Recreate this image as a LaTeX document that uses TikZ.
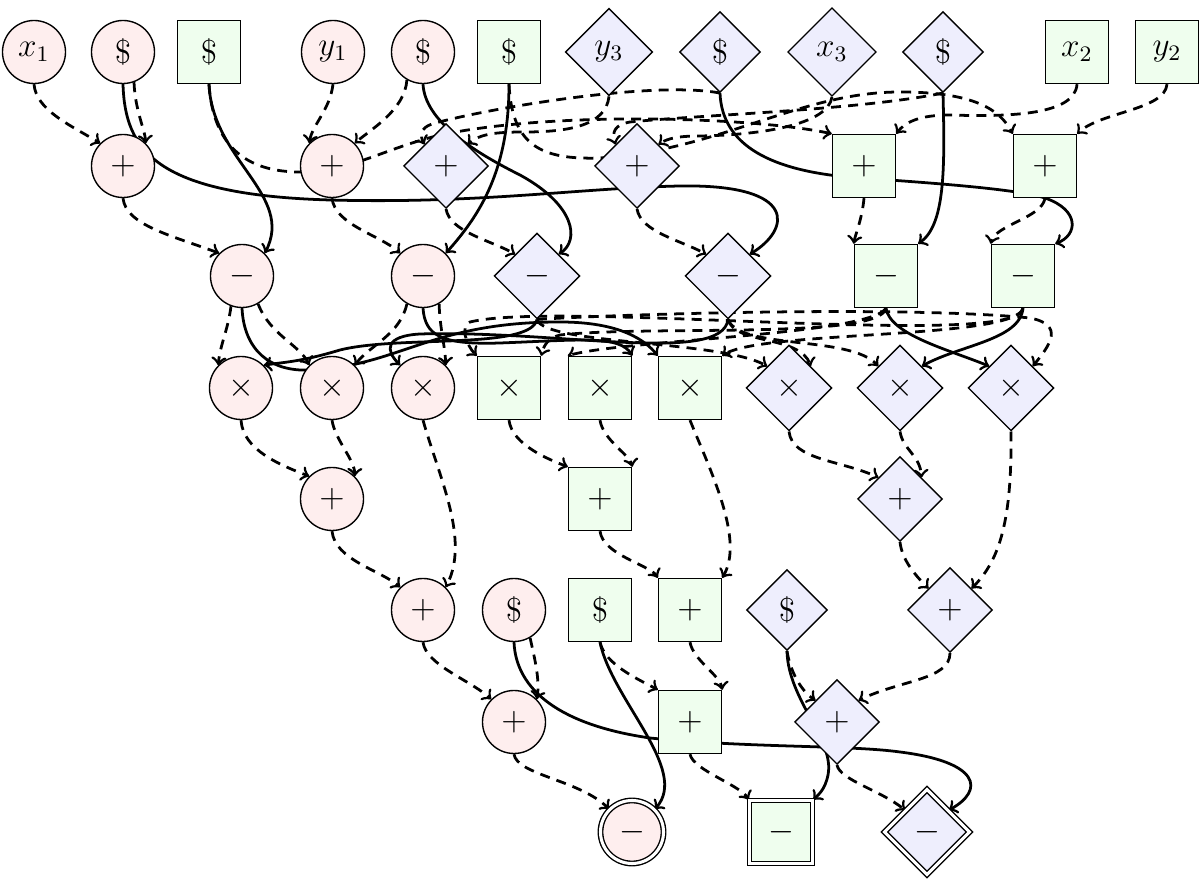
\documentclass[tikz,border=0pt]{standalone}
\usetikzlibrary{shapes.geometric,backgrounds}
\definecolor{cpink}{RGB}{254,238,238}
\definecolor{cgreen}{RGB}{239,254,238}
\definecolor{cblue}{RGB}{238,238,253}
\tikzset{
  base/.style={draw, line width=0.5pt, font=\large},
  pc/.style={base, circle, fill=cpink, minimum size=0.8cm, inner sep=0pt},
  ps/.style={base, rectangle, fill=cgreen, minimum size=0.8cm, inner sep=0pt},
  pd/.style={base, diamond, fill=cblue, inner sep=3.4pt},
  dbl/.style={double, double distance=1.1pt},
  loc/.style={->, dash pattern=on 3.6pt off 2.6pt, line width=1pt},
  snd/.style={->, line width=1pt}
}
\begin{document}
\begin{tikzpicture}[x=0.0127cm, y=-0.0127cm]
\useasboundingbox (0,0) rectangle (1200,879);
% row 1
\node[pc] (x1) at (34,52) {$x_1$};
\node[pc] (r1) at (123,52) {\$};
\node[ps] (s1) at (209,52) {\$};
\node[pc] (y1) at (333,52) {$y_1$};
\node[pc] (r2) at (423,52) {\$};
\node[ps] (s2) at (509,52) {\$};
\node[pd] (y3) at (609,52) {$y_3$};
\node[pd] (d1) at (720,52) {\$};
\node[pd] (x3) at (832,52) {$x_3$};
\node[pd] (d2) at (943,52) {\$};
\node[ps] (x2) at (1077,52) {$x_2$};
\node[ps] (y2) at (1167,52) {$y_2$};
% row 2
\node[pc] (pC1) at (123,166) {$+$};
\node[pc] (pC2) at (332,166) {$+$};
\node[pd] (pD1) at (446,166) {$+$};
\node[pd] (pD2) at (637,166) {$+$};
\node[ps] (pS1) at (864,166) {$+$};
\node[ps] (pS2) at (1045,166) {$+$};
% row 3
\node[pc] (mC1) at (242,276) {$-$};
\node[pc] (mC2) at (423,276) {$-$};
\node[pd] (mD1) at (537,276) {$-$};
\node[pd] (mD2) at (728,276) {$-$};
\node[ps] (mS1) at (886,276) {$-$};
\node[ps] (mS2) at (1023,276) {$-$};
% row 4
\node[pc] (tC1) at (241,388) {$\times$};
\node[pc] (tC2) at (332,388) {$\times$};
\node[pc] (tC3) at (423,388) {$\times$};
\node[ps] (tS1) at (509,388) {$\times$};
\node[ps] (tS2) at (600,388) {$\times$};
\node[ps] (tS3) at (690,388) {$\times$};
\node[pd] (tD1) at (789,388) {$\times$};
\node[pd] (tD2) at (900,388) {$\times$};
\node[pd] (tD3) at (1011,388) {$\times$};
% row 5
\node[pc] (aC) at (332,499) {$+$};
\node[ps] (aS) at (600,499) {$+$};
\node[pd] (aD) at (900,499) {$+$};
% row 6
\node[pc] (bC) at (423,610) {$+$};
\node[pc] (rC3) at (514,610) {\$};
\node[ps] (sS3) at (600,610) {\$};
\node[ps] (bS) at (690,610) {$+$};
\node[pd] (dD3) at (787,610) {\$};
\node[pd] (bD) at (950,610) {$+$};
% row 7
\node[pc] (cC) at (514,722) {$+$};
\node[ps] (cS) at (690,722) {$+$};
\node[pd] (cD) at (837,722) {$+$};
% row 8
\node[pc, dbl] (oC) at (632,832) {$-$};
\node[ps, dbl] (oS) at (781,832) {$-$};
\node[pd, dbl] (oD) at (927,832) {$-$};

\begin{pgfonlayer}{background}
% row 1 -> row 2 (local)
\draw[loc] (x1.south) .. controls (36,110) and (70,125) .. (pC1.north west);
\draw[loc] (r1.-70) .. controls (135,110) and (145,130) .. (pC1.north east);
\draw[loc] (y1.south) .. controls (330,110) and (312,125) .. (pC2.north west);
\draw[loc] (r2.-120) .. controls (405,110) and (370,130) .. (pC2.north east);
\draw[loc] (s1.south) .. controls (213,145) and (245,172) .. (300,172) .. controls (350,172) and (380,150) .. (440,135) .. controls (560,110) and (760,118) .. (pS1.north west);
\draw[loc] (s2.south) .. controls (512,145) and (540,160) .. (600,158) .. controls (720,150) and (800,92) .. (900,92) .. controls (975,92) and (1000,110) .. (pS2.north west);
\draw[loc] (d1.south) .. controls (650,80) and (480,110) .. (432,124) .. controls (420,128) and (420,136) .. (pD1.north west);
\draw[loc] (y3.south) .. controls (606,125) and (570,132) .. (525,132) .. controls (495,132) and (480,134) .. (pD1.north east);
\draw[loc] (d2.south) .. controls (860,110) and (700,115) .. (630,122) .. controls (614,125) and (612,132) .. (pD2.north west);
\draw[loc] (x3.south) .. controls (828,125) and (760,135) .. (700,136) .. controls (680,136) and (668,138) .. (pD2.north east);
\draw[loc] (x2.south) .. controls (1075,115) and (1010,117) .. (950,115) .. controls (920,115) and (905,122) .. (pS1.north east);
\draw[loc] (y2.south) .. controls (1165,110) and (1100,112) .. (pS2.north east);
% row 2 -> row 3 (local)
\draw[loc] (pC1.south) .. controls (126,225) and (170,235) .. (mC1.north west);
\draw[loc] (pC2.south) .. controls (335,225) and (380,235) .. (mC2.north west);
\draw[loc] (pD1.south) .. controls (450,232) and (490,240) .. (mD1.north west);
\draw[loc] (pD2.south) .. controls (641,232) and (680,240) .. (mD2.north west);
\draw[loc] (pS1.south) .. controls (862,220) and (855,235) .. (mS1.north west);
\draw[loc] (pS2.south) .. controls (1042,218) and (995,225) .. (mS2.north west);
% random values sent
\draw[snd] (r1.south) .. controls (125,150) and (155,195) .. (330,200) .. controls (480,204) and (580,188) .. (680,186) .. controls (800,184) and (790,230) .. (mD2.north east);
\draw[snd] (s1.south) .. controls (212,160) and (295,195) .. (mC1.north east);
\draw[snd] (r2.south) .. controls (425,120) and (470,150) .. (520,175) .. controls (575,205) and (580,240) .. (mD1.north east);
\draw[snd] (s2.south) .. controls (509,170) and (480,215) .. (mC2.north east);
\draw[snd] (d1.south) .. controls (722,145) and (770,172) .. (860,178) .. controls (950,184) and (1020,190) .. (1045,198) .. controls (1080,210) and (1078,235) .. (mS2.north east);
\draw[snd] (d2.south) .. controls (945,170) and (945,225) .. (mS1.north east);
% row 3 -> row 4 (local)
\draw[loc] (mC1.250) .. controls (228,330) and (220,345) .. (tC1.north west);
\draw[loc] (mC1.-60) .. controls (270,335) and (300,345) .. (tC2.north west);
\draw[loc] (mC2.240) .. controls (400,335) and (370,345) .. (tC2.north east);
\draw[loc] (mC2.-60) .. controls (440,330) and (445,345) .. (tC3.north east);
\draw[loc] (mS1.south) .. controls (880,340) and (650,325) .. (560,335) .. controls (548,338) and (544,345) .. (tS1.north east);
\draw[loc] (mS2.south) .. controls (1020,350) and (560,300) .. (470,322) .. controls (460,326) and (466,345) .. (tS1.north west);
\draw[loc] (mS1.south) .. controls (870,335) and (620,340) .. (tS2.north west);
\draw[loc] (mS2.south) .. controls (1015,340) and (760,330) .. (tS3.north east);
\draw[loc] (mD1.south) .. controls (545,345) and (720,340) .. (tD1.north west);
\draw[loc] (mD2.south) .. controls (735,345) and (800,335) .. (tD1.north east);
\draw[loc] (mD2.south) .. controls (740,350) and (850,335) .. (tD2.north west);
\draw[loc] (mD1.south) .. controls (600,315) and (900,305) .. (1030,318) .. controls (1065,325) and (1050,345) .. (tD3.north east);
% row 3 -> row 4 (sent)
\draw[snd] (mC1.south) .. controls (244,350) and (270,372) .. (310,370) .. controls (400,366) and (430,322) .. (560,322) .. controls (620,322) and (645,340) .. (tS3.north west);
\draw[snd] (mC2.south) .. controls (425,335) and (440,345) .. (500,343) .. controls (580,340) and (620,335) .. (tS2.north east);
\draw[snd] (mD1.south) .. controls (530,350) and (400,335) .. (340,350) .. controls (300,362) and (285,362) .. (tC1.north east);
\draw[snd] (mD2.south) .. controls (722,365) and (560,330) .. (420,334) .. controls (385,336) and (385,350) .. (tC3.north west);
\draw[snd] (mS1.south) .. controls (890,335) and (950,350) .. (tD3.north west);
\draw[snd] (mS2.south) .. controls (1020,340) and (960,345) .. (tD2.north east);
% row 4 -> row 6
\draw[loc] (tC1.south) .. controls (243,450) and (280,465) .. (aC.north west);
\draw[loc] (tC2.south) .. controls (335,440) and (355,460) .. (aC.north east);
\draw[loc] (tC3.south) .. controls (440,480) and (470,540) .. (bC.north east);
\draw[loc] (aC.south) .. controls (335,560) and (380,570) .. (bC.north west);
\draw[loc] (tS1.south) .. controls (512,445) and (550,460) .. (aS.north west);
\draw[loc] (tS2.south) .. controls (603,440) and (630,455) .. (aS.north east);
\draw[loc] (tS3.south) .. controls (710,470) and (745,540) .. (bS.north east);
\draw[loc] (aS.south) .. controls (603,555) and (650,565) .. (bS.north west);
\draw[loc] (tD1.south) .. controls (792,460) and (840,460) .. (aD.north west);
\draw[loc] (tD2.south) .. controls (903,450) and (920,455) .. (aD.north east);
\draw[loc] (tD3.south) .. controls (1012,520) and (1000,560) .. (bD.north east);
\draw[loc] (aD.south) .. controls (902,560) and (915,575) .. (bD.north west);
% row 6 -> row 7
\draw[loc] (bC.south) .. controls (426,665) and (470,680) .. (cC.north west);
\draw[loc] (rC3.-60) .. controls (535,660) and (540,680) .. (cC.north east);
\draw[loc] (sS3.south) .. controls (605,665) and (640,680) .. (cS.north west);
\draw[loc] (bS.south) .. controls (693,660) and (720,675) .. (cS.north east);
\draw[loc] (dD3.south) .. controls (790,670) and (800,690) .. (cD.north west);
\draw[loc] (bD.south) .. controls (950,680) and (900,680) .. (cD.north east);
% row 7 -> row 8
\draw[loc] (cC.south) .. controls (517,775) and (580,780) .. (oC.north west);
\draw[loc] (cS.south) .. controls (693,770) and (740,785) .. (oS.north west);
\draw[loc] (cD.south) .. controls (840,780) and (880,790) .. (oD.north west);
% final randoms sent
\draw[snd] (rC3.south) .. controls (516,690) and (560,725) .. (650,738) .. controls (750,748) and (850,745) .. (900,752) .. controls (980,762) and (985,790) .. (oD.north east);
\draw[snd] (sS3.south) .. controls (612,700) and (690,770) .. (oC.north east);
\draw[snd] (dD3.south) .. controls (788,700) and (835,740) .. (828,775) .. controls (825,790) and (818,795) .. (oS.north east);
\end{pgfonlayer}
\end{tikzpicture}
\end{document}
